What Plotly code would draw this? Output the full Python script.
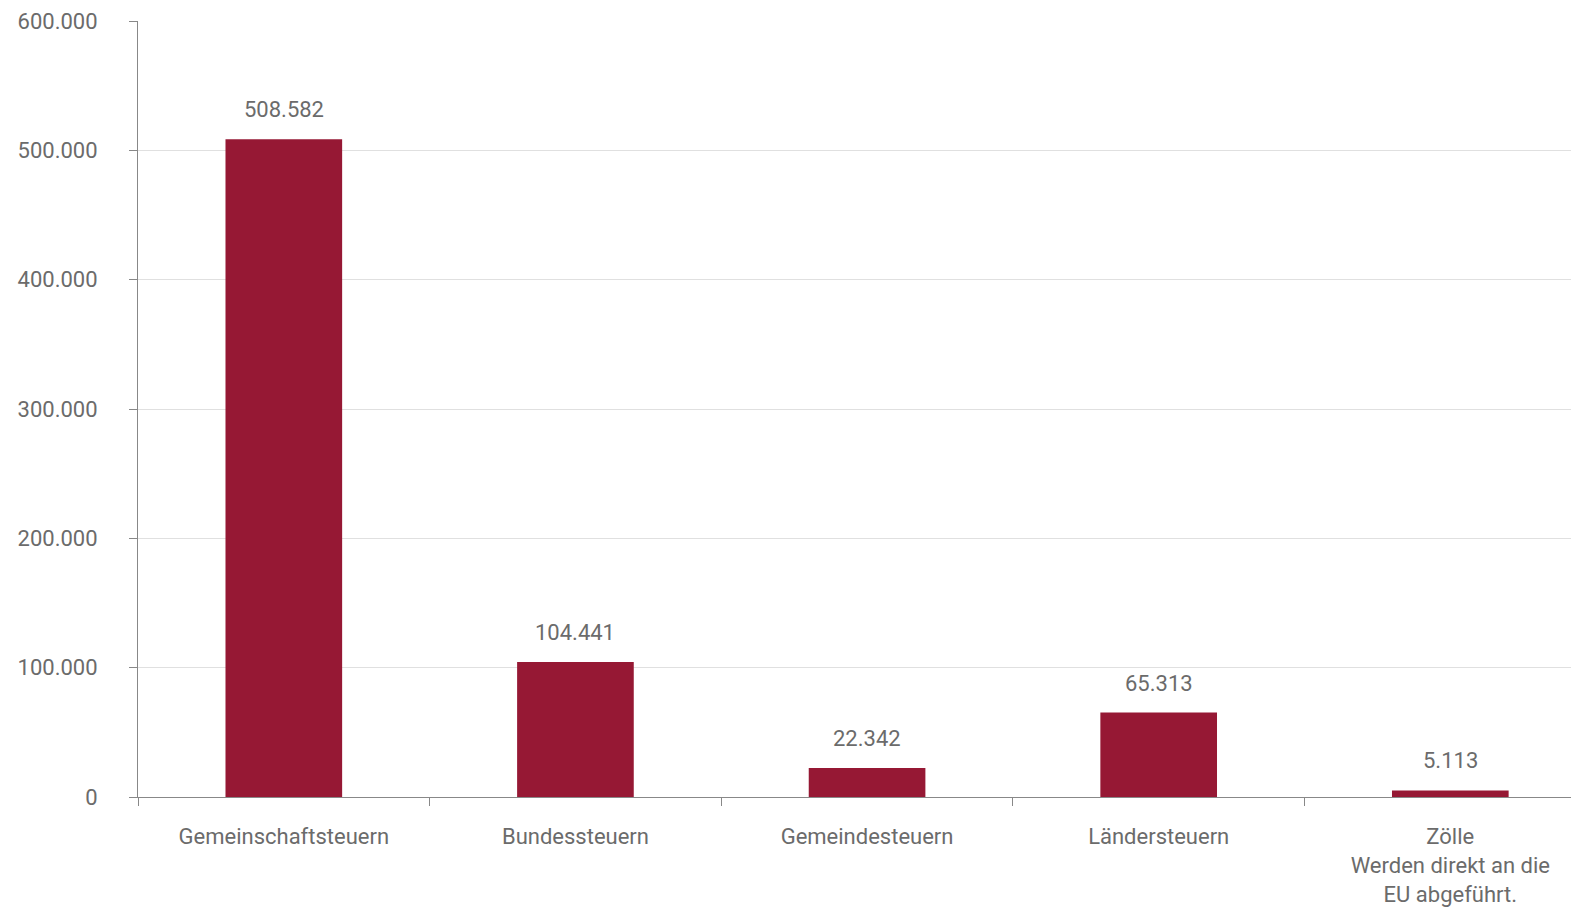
import plotly.graph_objects as go

categories = ["Gemeinschaftsteuern", "Bundessteuern", "Gemeindesteuern", "Ländersteuern",
              "Zölle<br>Werden direkt an die<br>EU abgeführt."]
values = [508582, 104441, 22342, 65313, 5113]
value_labels = ["508.582", "104.441", "22.342", "65.313", "5.113"]
y_ticks = [0, 100000, 200000, 300000, 400000, 500000, 600000]
y_tick_labels = ["0", "100.000", "200.000", "300.000", "400.000", "500.000", "600.000"]

FONT = "Roboto, Arial, sans-serif"
TXT = "#6b6b6b"
FS = 22

fig = go.Figure()
fig.add_trace(go.Bar(
    x=categories, y=values, width=0.4,
    marker=dict(color="#961834", line=dict(width=0)),
    hoverinfo="skip",
))

for c, v, lab in zip(categories, values, value_labels):
    fig.add_annotation(x=c, y=v, text=lab, showarrow=False, yanchor="bottom",
                       yshift=15, font=dict(family=FONT, size=FS, color=TXT))

fig.update_layout(
    width=1579, height=914,
    margin=dict(l=130, r=4, t=13, b=125),
    plot_bgcolor="white", paper_bgcolor="white",
    showlegend=False,
    font=dict(family=FONT, size=FS, color=TXT),
    bargap=0.6,
)
fig.update_xaxes(
    type="category", tickson="boundaries", ticks="outside", ticklen=8,
    range=[-0.5, 4.455],
    tickcolor="#888888", showline=True, linecolor="#888888", linewidth=1,
    showgrid=False, tickfont=dict(family=FONT, size=FS, color=TXT),
    ticklabelstandoff=20, automargin=False,
)
fig.update_yaxes(
    range=[0, 600000], tickvals=y_ticks, ticktext=y_tick_labels,
    ticks="outside", ticklen=8, tickcolor="#888888",
    showline=True, linecolor="#888888", linewidth=1,
    showgrid=True, gridcolor="#e0e0e0", gridwidth=1,
    zeroline=True, zerolinecolor="#888888", zerolinewidth=1,
    tickfont=dict(family=FONT, size=FS, color=TXT),
    ticklabelstandoff=27, automargin=False,
)

fig.write_html("out.html")
